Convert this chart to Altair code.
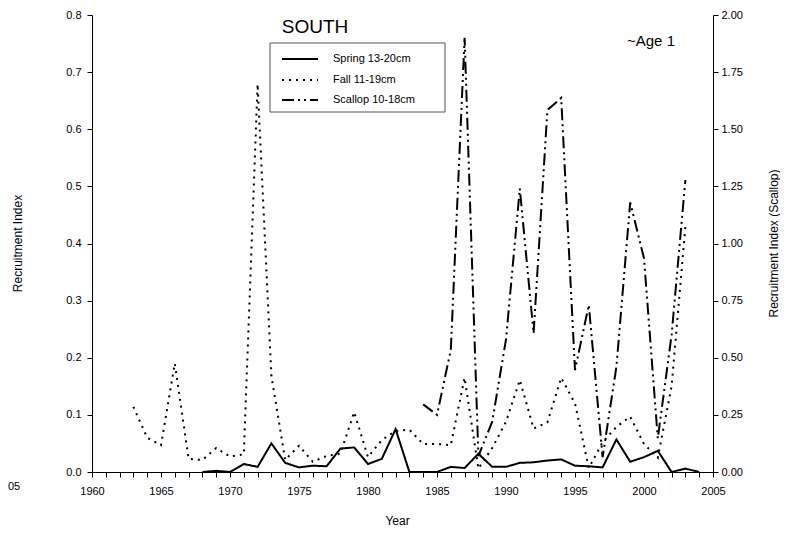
import altair as alt
import pandas as pd

spring_years = list(range(1968, 2005))
spring_vals = [0.0, 0.002, 0.0, 0.014, 0.009, 0.050, 0.016, 0.008, 0.011, 0.010,
               0.041, 0.043, 0.014, 0.023, 0.075, 0.0, 0.0, 0.0, 0.009, 0.007,
               0.032, 0.009, 0.009, 0.016, 0.017, 0.020, 0.022, 0.011, 0.010, 0.008,
               0.057, 0.018, 0.026, 0.037, 0.0, 0.006, 0.0]

fall_years = list(range(1963, 2004))
fall_vals = [0.114, 0.060, 0.047, 0.190, 0.023, 0.021, 0.042, 0.027, 0.031, 0.679,
             0.168, 0.021, 0.046, 0.018, 0.028, 0.032, 0.105, 0.026, 0.056, 0.072,
             0.074, 0.049, 0.049, 0.047, 0.165, 0.006, 0.042, 0.088, 0.161, 0.076,
             0.087, 0.165, 0.120, 0.007, 0.052, 0.079, 0.097, 0.049, 0.025, 0.150,
             0.430]

scallop_years = list(range(1984, 2004))
scallop_vals = [0.296, 0.250, 0.534, 1.900, 0.070, 0.220, 0.580, 1.240, 0.607, 1.584,
                1.637, 0.446, 0.731, 0.065, 0.460, 1.180, 0.935, 0.147, 0.600, 1.278]

series_names = ["Spring 13-20cm", "Fall 11-19cm", "Scallop 10-18cm"]
series_dashes = [[1, 0], [2, 5], [12, 4, 2, 4, 2, 4]]

x_ticks = list(range(1960, 2006))
left_ticks = [0.0, 0.1, 0.2, 0.3, 0.4, 0.5, 0.6, 0.7, 0.8]
right_ticks = [0.0, 0.25, 0.5, 0.75, 1.0, 1.25, 1.5, 1.75, 2.0]

FONT = "Liberation Sans"
W, H = 621, 457

df_left = pd.concat([
    pd.DataFrame({"year": spring_years, "value": spring_vals, "series": series_names[0]}),
    pd.DataFrame({"year": fall_years, "value": fall_vals, "series": series_names[1]}),
])
df_right = pd.DataFrame({"year": scallop_years, "value": scallop_vals, "series": series_names[2]})

x_enc = alt.X(
    "year:Q",
    scale=alt.Scale(domain=[1960, 2005], nice=False, zero=False),
    axis=alt.Axis(
        values=x_ticks, format="d",
        labelExpr="datum.value % 5 == 0 ? datum.label : ''",
        labelFlush=False, labelOverlap=False, tickSize=5, labelPadding=8,
        title="Year", titleX=305, titleY=48, titleBaseline="middle",
        titleFontWeight="normal",
    ),
)

dash_enc = alt.StrokeDash(
    "series:N",
    scale=alt.Scale(domain=series_names, range=series_dashes),
    legend=None,
)

left = alt.Chart(df_left).mark_line(color="black", strokeWidth=2, strokeCap="butt").encode(
    x=x_enc,
    y=alt.Y(
        "value:Q",
        scale=alt.Scale(domain=[0, 0.8], nice=False),
        axis=alt.Axis(
            values=left_ticks, format=".1f", tickSize=5, labelPadding=6,
            title="Recruitment Index", titleX=-75, titleY=228, titleAngle=-90,
            titleAlign="center", titleBaseline="middle", titleFontWeight="normal",
        ),
    ),
    strokeDash=dash_enc,
    detail="series:N",
)

right = alt.Chart(df_right).mark_line(color="black", strokeWidth=2, strokeCap="butt").encode(
    x=x_enc,
    y=alt.Y(
        "value:Q",
        scale=alt.Scale(domain=[0, 2], nice=False),
        axis=alt.Axis(
            orient="right", values=right_ticks, format=".2f", tickSize=5, labelPadding=3,
            title="Recruitment Index (Scallop)", titleX=60, titleY=228, titleAngle=-90,
            titleAlign="center", titleBaseline="middle", titleFontWeight="normal",
        ),
    ),
    strokeDash=dash_enc,
)

# legend box drawn inside the plot
one = pd.DataFrame({"k": [0]})
legend_layers = [
    alt.Chart(one).mark_rect(fill="white", stroke="#555555", strokeWidth=1).encode(
        x=alt.value(178), x2=alt.value(353), y=alt.value(28), y2=alt.value(97)
    )
]
row_y = [44, 65, 85]
for name, dash, ry in zip(series_names, series_dashes, row_y):
    legend_layers.append(
        alt.Chart(one).mark_rule(color="black", strokeWidth=2, strokeDash=dash, strokeCap="butt").encode(
            x=alt.value(190), x2=alt.value(226), y=alt.value(ry)
        )
    )
    legend_layers.append(
        alt.Chart(pd.DataFrame({"t": [name]})).mark_text(
            font=FONT, fontSize=11, color="black", align="left", baseline="middle"
        ).encode(x=alt.value(241), y=alt.value(ry), text="t:N")
    )

title_txt = alt.Chart(pd.DataFrame({"t": ["SOUTH"]})).mark_text(
    font=FONT, fontSize=19, color="black", baseline="middle", align="center"
).encode(x=alt.value(223), y=alt.value(12), text="t:N")

age_txt = alt.Chart(pd.DataFrame({"t": ["~Age 1"]})).mark_text(
    font=FONT, fontSize=15, color="black", baseline="middle", align="center"
).encode(x=alt.value(559), y=alt.value(26), text="t:N")

stray_txt = alt.Chart(pd.DataFrame({"t": ["05"]})).mark_text(
    font=FONT, fontSize=11, color="black", baseline="middle", align="left"
).encode(x=alt.value(-84), y=alt.value(472), text="t:N")

chart = alt.layer(left, right, *legend_layers, title_txt, age_txt, stray_txt).resolve_scale(
    y="independent"
).properties(
    width=W, height=H,
    autosize=alt.AutoSizeParams(type="none"),
    padding={"left": 84, "top": 7, "right": 67, "bottom": 54},
).configure_view(stroke=None).configure_axis(
    labelFont=FONT, titleFont=FONT, labelFontSize=11, titleFontSize=12,
    labelColor="black", titleColor="black", domainColor="black", tickColor="black",
    grid=False, domainWidth=1, tickWidth=1,
)

chart.save("out.html", embed_options={"renderer": "svg", "actions": False})
